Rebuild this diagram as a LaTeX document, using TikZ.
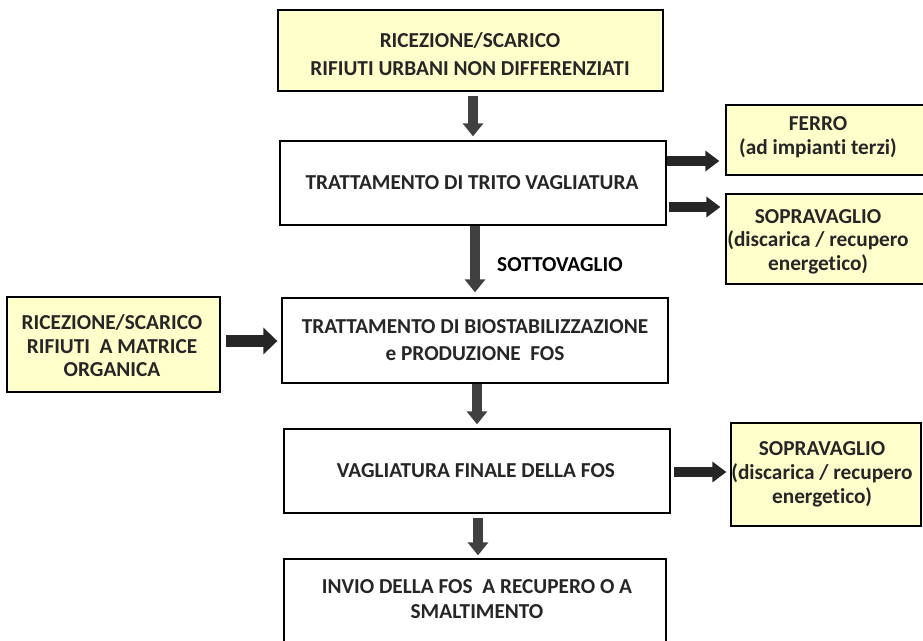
\documentclass[tikz,border=0pt]{standalone}
\usepackage{fontspec}
\setmainfont{Carlito}[Ligatures=NoCommon]
\usetikzlibrary{arrows.meta}
\definecolor{boxfill}{HTML}{FFFFCC}
\definecolor{txt}{HTML}{262626}
\definecolor{arrv}{HTML}{404040}
\definecolor{arrh}{HTML}{262626}
\tikzset{
  box/.style={draw=black, line width=1.3pt, rectangle, inner sep=0pt, fill=white},
  ybox/.style={box, fill=boxfill},
  mtxt/.style={text=txt, font=\fontsize{21.3}{28}\selectfont\bfseries, align=center, inner sep=0pt},
  stxt/.style={text=txt, font=\fontsize{21.3}{23.5}\selectfont\bfseries, align=center, inner sep=0pt},
  varrow/.style={draw=arrv, line width=10pt, -{Triangle[width=20pt,length=13pt]}},
  harrow/.style={draw=arrh, line width=10pt, -{Triangle[width=20pt,length=14pt]}},
}
\begin{document}
\begin{tikzpicture}[x=1pt,y=-1pt]
\useasboundingbox (0,0) rectangle (923,640);
\clip (0,0) rectangle (923,640);
% boxes
\node[ybox, minimum width=385pt, minimum height=81pt] (top) at (470.5,50.5) {};
\node[box, minimum width=386pt, minimum height=84pt] (trito) at (473,183) {};
\node[ybox, minimum width=199pt, minimum height=70pt] (ferro) at (825.5,140) {};
\node[ybox, minimum width=199pt, minimum height=90pt] (sopra1) at (825.5,239) {};
\node[ybox, minimum width=213pt, minimum height=95pt] (left) at (113.5,344.5) {};
\node[box, minimum width=386pt, minimum height=85pt] (bio) at (475,340.5) {};
\node[box, minimum width=386pt, minimum height=84pt] (vagl) at (477,471) {};
\node[ybox, minimum width=190pt, minimum height=103pt] (sopra2) at (826,474.5) {};
\node[box, minimum width=382pt, minimum height=86pt] (invio) at (475,602) {};
% texts
\node[mtxt] (toptxt) at (470,54) {RICEZIONE/SCARICO\\RIFIUTI URBANI NON DIFFERENZIATI};
\node[mtxt] (tritotxt) at (472,183) {TRATTAMENTO DI TRITO VAGLIATURA};
\node[stxt] (ferrotxt) at (818,137) {FERRO\\(ad impianti terzi)};
\node[stxt] (sopra1txt) at (818,241.5) {SOPRAVAGLIO\\(discarica / recupero\\energetico)};
\node[stxt] (lefttxt) at (112,346) {RICEZIONE/SCARICO\\RIFIUTI\ \ A MATRICE\\ORGANICA};
\node[mtxt, font=\fontsize{21.3}{27}\selectfont\bfseries] (biotxt) at (475,340.5) {TRATTAMENTO DI BIOSTABILIZZAZIONE\\e PRODUZIONE\ \ FOS};
\node[mtxt] (vagltxt) at (476,471) {VAGLIATURA FINALE DELLA FOS};
\node[stxt, font=\fontsize{21.3}{24}\selectfont\bfseries] (sopra2txt) at (822,474) {SOPRAVAGLIO\\(discarica / recupero\\energetico)};
\node[mtxt, font=\fontsize{21.3}{25}\selectfont\bfseries] (inviotxt) at (477,599.5) {INVIO DELLA FOS\ \ A RECUPERO O A\\SMALTIMENTO};
\node[text=black, font=\fontsize{21.3}{24}\selectfont\bfseries, inner sep=0pt] (sottotxt) at (560,265) {SOTTOVAGLIO};
% arrows
\draw[varrow] ([xshift=2.5pt,yshift=-4pt]top.south) -- ([yshift=4pt]trito.north);
\draw[harrow] ([yshift=22pt]trito.east) -- ([xshift=-6pt,yshift=-21pt]ferro.west);
\draw[harrow] ([xshift=2pt,yshift=-24pt]trito.east) -- ([xshift=-5pt,yshift=32pt]sopra1.west);
\draw[varrow] ([xshift=2pt]trito.south) -- ([yshift=5pt]bio.north);
\draw[harrow, line width=12pt, -{Triangle[width=26pt,length=14pt]}] ([xshift=5pt,yshift=3.5pt]left.east) -- ([xshift=-4pt,yshift=-0.5pt]bio.west);
\draw[varrow] ([xshift=2pt]bio.south) -- ([yshift=4pt]vagl.north);
\draw[harrow] ([xshift=3pt,yshift=-1pt]vagl.east) -- ([xshift=-4pt,yshift=2.5pt]sopra2.west);
\draw[varrow] ([xshift=1pt,yshift=-4pt]vagl.south) -- ([xshift=3pt,yshift=3pt]invio.north);
\end{tikzpicture}
\end{document}
